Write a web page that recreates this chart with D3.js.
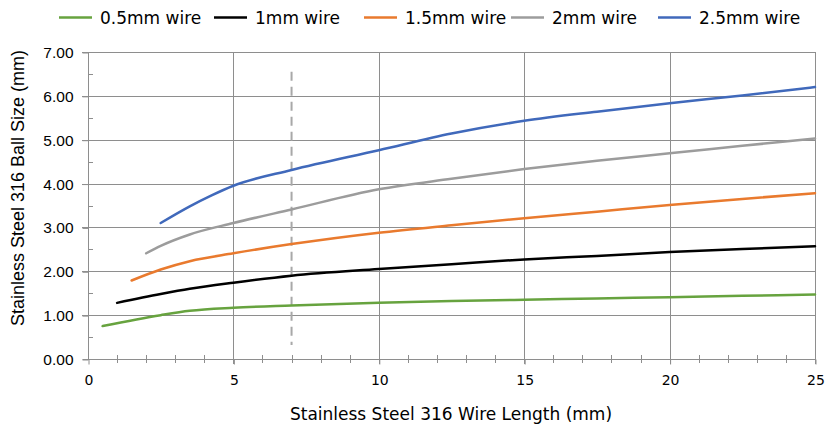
<!DOCTYPE html>
<html>
<head>
<meta charset="utf-8">
<script src="https://cdn.jsdelivr.net/npm/d3@7"></script>
<style>
  html, body { margin: 0; padding: 0; background: #fff; }
  svg { display: block; }
</style>
</head>
<body>
<svg id="chart" width="825" height="429"></svg>
<script>
// ---- data ----
const seriesNames = ["0.5mm wire", "1mm wire", "1.5mm wire", "2mm wire", "2.5mm wire"];
const seriesColors = ["#67A33F", "#000000", "#E97A2E", "#9C9C9C", "#4069BB"];

const x05 = [0.5, 2.5, 3.5, 5, 7, 10, 12.5, 15, 17.5, 20, 22.5, 25];
const y05 = [0.75, 1.00, 1.10, 1.17, 1.22, 1.28, 1.32, 1.35, 1.38, 1.41, 1.44, 1.47];

const x10 = [1, 2.5, 3.5, 5, 7, 10, 12.5, 15, 17.5, 20, 22.5, 25];
const y10 = [1.28, 1.48, 1.60, 1.74, 1.90, 2.05, 2.16, 2.27, 2.35, 2.44, 2.51, 2.57];

const x15 = [1.5, 2.5, 3.5, 5, 7, 10, 12.5, 15, 17.5, 20, 22.5, 25];
const y15 = [1.79, 2.04, 2.23, 2.41, 2.62, 2.88, 3.05, 3.21, 3.36, 3.51, 3.65, 3.78];

const x20 = [2, 2.5, 3.5, 5, 7, 10, 12.5, 15, 17.5, 20, 22.5, 25];
const y20 = [2.41, 2.58, 2.84, 3.10, 3.41, 3.87, 4.11, 4.33, 4.52, 4.69, 4.86, 5.03];

const x25 = [2.5, 3.5, 4.25, 5, 7, 10, 12.5, 15, 17.5, 20, 22.5, 25];
const y25 = [3.10, 3.48, 3.73, 3.95, 4.31, 4.76, 5.14, 5.43, 5.64, 5.83, 6.01, 6.20];

const seriesX = [x05, x10, x15, x20, x25];
const seriesY = [y05, y10, y15, y20, y25];

const xTicks = [0, 5, 10, 15, 20, 25];
const yTicks = [0, 1, 2, 3, 4, 5, 6, 7];
const markerX = 7;          // dashed reference line
const markerRange = [0.32, 6.55];
const xTitle = "Stainless Steel 316 Wire Length (mm)";
const yTitle = "Stainless Steel 316 Ball Size (mm)";

// ---- layout ----
const svg = d3.select("#chart");
const L = 88, R = 815, T = 52, B = 359;
const x = d3.scaleLinear().domain([0, 25]).range([L, R]);
const y = d3.scaleLinear().domain([0, 7]).range([B, T]);
const gridColor = "#8E8E8E";
const geoFont = "'DejaVu Sans', sans-serif";
const sansFont = "'Liberation Sans', Arial, sans-serif";

// horizontal gridlines (extend left as major ticks)
svg.append("g").selectAll("line").data(yTicks.filter(d => d > 0)).join("line")
  .attr("x1", L - 6).attr("x2", R)
  .attr("y1", d => Math.round(y(d)) + 0.5).attr("y2", d => Math.round(y(d)) + 0.5)
  .attr("stroke", gridColor).attr("stroke-width", 1);

// vertical gridlines (extend below as major ticks)
svg.append("g").selectAll("line").data(xTicks.filter(d => d > 0)).join("line")
  .attr("x1", d => Math.round(x(d)) + 0.5).attr("x2", d => Math.round(x(d)) + 0.5)
  .attr("y1", T).attr("y2", B + 5)
  .attr("stroke", gridColor).attr("stroke-width", 1);

// y axis
const yAxis = d3.axisLeft(y).tickValues(yTicks).tickFormat(d3.format(".2f")).tickSize(6).tickPadding(9);
const gy = svg.append("g").attr("transform", `translate(${L + 0.5},0.5)`).call(yAxis);
gy.select(".domain").attr("stroke", gridColor).attr("d", `M0,${T}V${B}`);
gy.selectAll(".tick line").attr("stroke", gridColor);
gy.selectAll(".tick text").attr("fill", "#000")
  .style("font-family", sansFont).style("font-size", "15.5px");
// y minor ticks (inside)
svg.append("g").selectAll("line").data(d3.range(0.5, 7, 1)).join("line")
  .attr("x1", L).attr("x2", L + 5)
  .attr("y1", d => Math.round(y(d)) + 0.5).attr("y2", d => Math.round(y(d)) + 0.5)
  .attr("stroke", gridColor);

// x axis
const xAxis = d3.axisBottom(x).tickValues(xTicks).tickFormat(d3.format("d")).tickSize(5).tickPadding(11);
const gx = svg.append("g").attr("transform", `translate(0.5,${B + 0.5})`).call(xAxis);
gx.select(".domain").attr("stroke", gridColor).attr("d", `M${L - 6},0H${R}`);
gx.selectAll(".tick line").attr("stroke", gridColor);
gx.selectAll(".tick text").attr("fill", "#000")
  .style("font-family", geoFont).style("font-size", "14px");
// x minor ticks (crossing)
svg.append("g").selectAll("line").data(d3.range(1, 25, 1).filter(d => d % 5 !== 0)).join("line")
  .attr("x1", d => Math.round(x(d)) + 0.5).attr("x2", d => Math.round(x(d)) + 0.5)
  .attr("y1", B - 4).attr("y2", B + 4)
  .attr("stroke", gridColor);

// dashed reference line
svg.append("line")
  .attr("x1", x(markerX)).attr("x2", x(markerX))
  .attr("y1", y(markerRange[1])).attr("y2", y(markerRange[0]))
  .attr("stroke", "#A8A8A8").attr("stroke-width", 2).attr("stroke-dasharray", "9,6");

// series lines
const line = d3.line().x(d => x(d[0])).y(d => y(d[1])).curve(d3.curveMonotoneX);
seriesNames.forEach((name, i) => {
  const pts = seriesX[i].map((v, j) => [v, seriesY[i][j]]);
  svg.append("path").datum(pts)
    .attr("d", line).attr("fill", "none")
    .attr("stroke", seriesColors[i]).attr("stroke-width", 2.5)
    .attr("stroke-linecap", "round").attr("stroke-linejoin", "round");
});

// axis titles
svg.append("text").attr("x", 451).attr("y", 420)
  .attr("text-anchor", "middle")
  .style("font-family", geoFont).style("font-size", "17px")
  .text(xTitle);
svg.append("text").attr("transform", `translate(24,${188}) rotate(-90)`)
  .attr("text-anchor", "middle")
  .style("font-family", sansFont).style("font-size", "18px")
  .text(yTitle);

// legend
const legendLineX = [59, 214, 364, 511, 658];
const legend = svg.append("g");
seriesNames.forEach((name, i) => {
  const lx = legendLineX[i];
  legend.append("line").attr("x1", lx).attr("x2", lx + 33).attr("y1", 17.5).attr("y2", 17.5)
    .attr("stroke", seriesColors[i]).attr("stroke-width", 2.5);
  legend.append("text").attr("x", lx + 41).attr("y", 23.5)
    .style("font-family", geoFont).style("font-size", "17px")
    .text(name);
});
</script>
</body>
</html>
